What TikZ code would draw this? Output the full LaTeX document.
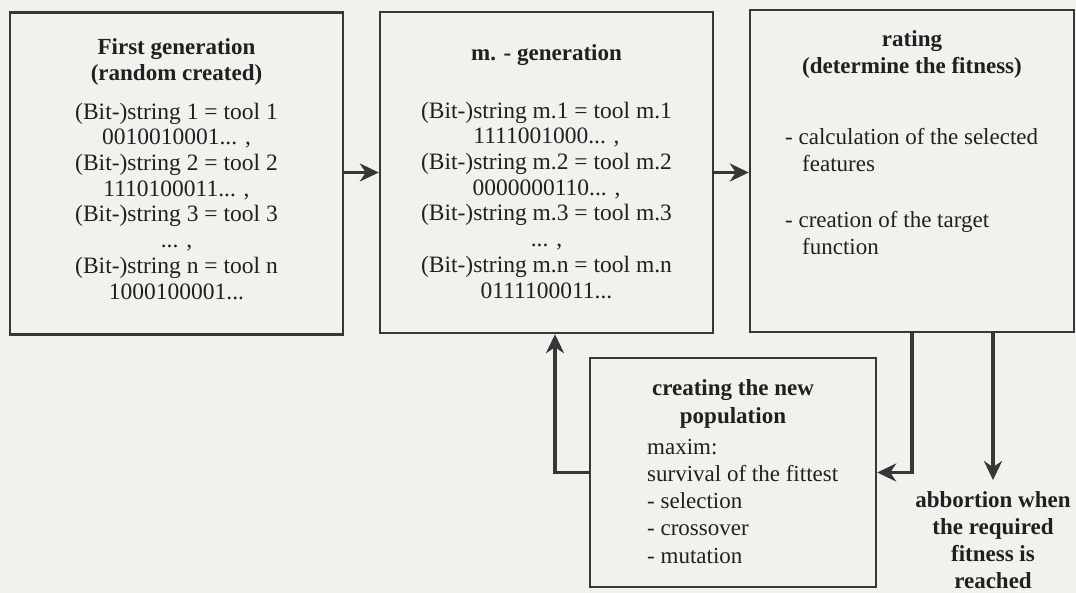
\documentclass[tikz,border=0pt]{standalone}
\usepackage{fontspec}
\setmainfont{Liberation Serif}
\usetikzlibrary{arrows.meta}
\definecolor{linec}{RGB}{55,55,55}
\definecolor{textc}{RGB}{32,32,32}
\definecolor{bgc}{RGB}{241,241,238}
\begin{document}
\begin{tikzpicture}[x=1pt,y=-1pt,
  box/.style={draw=linec, line width=2.4pt, inner sep=0pt},
  txt/.style={inner sep=0pt, text=textc, font=\fontsize{23.5}{25.7}\selectfont},
  head/.style={inner sep=0pt, text=textc, align=center, font=\fontsize{23}{26}\selectfont\bfseries},
  arr/.style={draw=linec, line width=3.2pt, -{Stealth[length=19pt,width=18pt,inset=6pt]}}]
\useasboundingbox (0,0) rectangle (1076,593);
\fill[bgc] (0,0) rectangle (1076,593);
% boxes
\node[box, minimum width=333pt, minimum height=322pt] (b1) at (176.5,173.5) {};
\node[box, minimum width=333pt, minimum height=321pt] (b2) at (546.5,172.5) {};
\node[box, minimum width=324pt, minimum height=322pt] (b3) at (912,171) {};
\node[box, minimum width=286pt, minimum height=229pt] (b4) at (733,472.5) {};
% box 1 text
\node[head, anchor=north] (h1) at (176.5,35.8) {\strut First generation\\(random created)};
\node[txt, anchor=north, align=center] (t1) at (176.5,101) {\strut(Bit-)string 1 = tool 1\\0010010001... ,\\(Bit-)string 2 = tool 2\\1110100011... ,\\(Bit-)string 3 = tool 3\\... ,\\(Bit-)string n = tool n\\1000100001...};
% box 2 text
\node[head, anchor=north] (h2) at (546.5,41.8) {\strut m. - generation};
\node[txt, anchor=north, align=center] (t2) at (546.5,100) {\strut(Bit-)string m.1 = tool m.1\\1111001000... ,\\(Bit-)string m.2 = tool m.2\\0000000110... ,\\(Bit-)string m.3 = tool m.3\\... ,\\(Bit-)string m.n = tool m.n\\0111100011...};
% box 3 text
\node[head, anchor=north, font=\fontsize{23}{27}\selectfont\bfseries] (h3) at (912,27.1) {\strut rating\\(determine the fitness)};
\node[txt, anchor=north west, align=left, font=\fontsize{23}{27.5}\selectfont] (r1) at (785,124.75) {\strut- calculation of the selected\\\hspace*{17pt}features};
\node[txt, anchor=north west, align=left, font=\fontsize{23}{27.5}\selectfont] (r2) at (785,207.75) {\strut- creation of the target\\\hspace*{17pt}function};
% box 4 text
\node[head, anchor=north, font=\fontsize{23}{28}\selectfont\bfseries] (h4) at (733,375.4) {\strut creating the new\\population};
\node[txt, anchor=north west, align=left, font=\fontsize{23}{27.2}\selectfont] (t4) at (647,434.96) {\strut maxim:\\survival of the fittest\\- selection\\- crossover\\- mutation};
% abortion text
\node[head, anchor=north, font=\fontsize{23}{27}\selectfont\bfseries] (ab) at (993,488.1) {\strut abbortion when\\the required\\fitness is\\reached};
% connectors
\coordinate (ret) at (555,0);
\draw[arr] (b1.east |- b2.west) -- (b2.west);
\draw[arr] (b2.east) -- (b3.west |- b2.east);
\draw[arr] (b3.south) |- (b4.east);
\draw[arr, shorten >=8pt] (b3.south -| ab.north) -- (ab.north);
\draw[arr] (b4.west) -| (ret |- b2.south);
\end{tikzpicture}
\end{document}
